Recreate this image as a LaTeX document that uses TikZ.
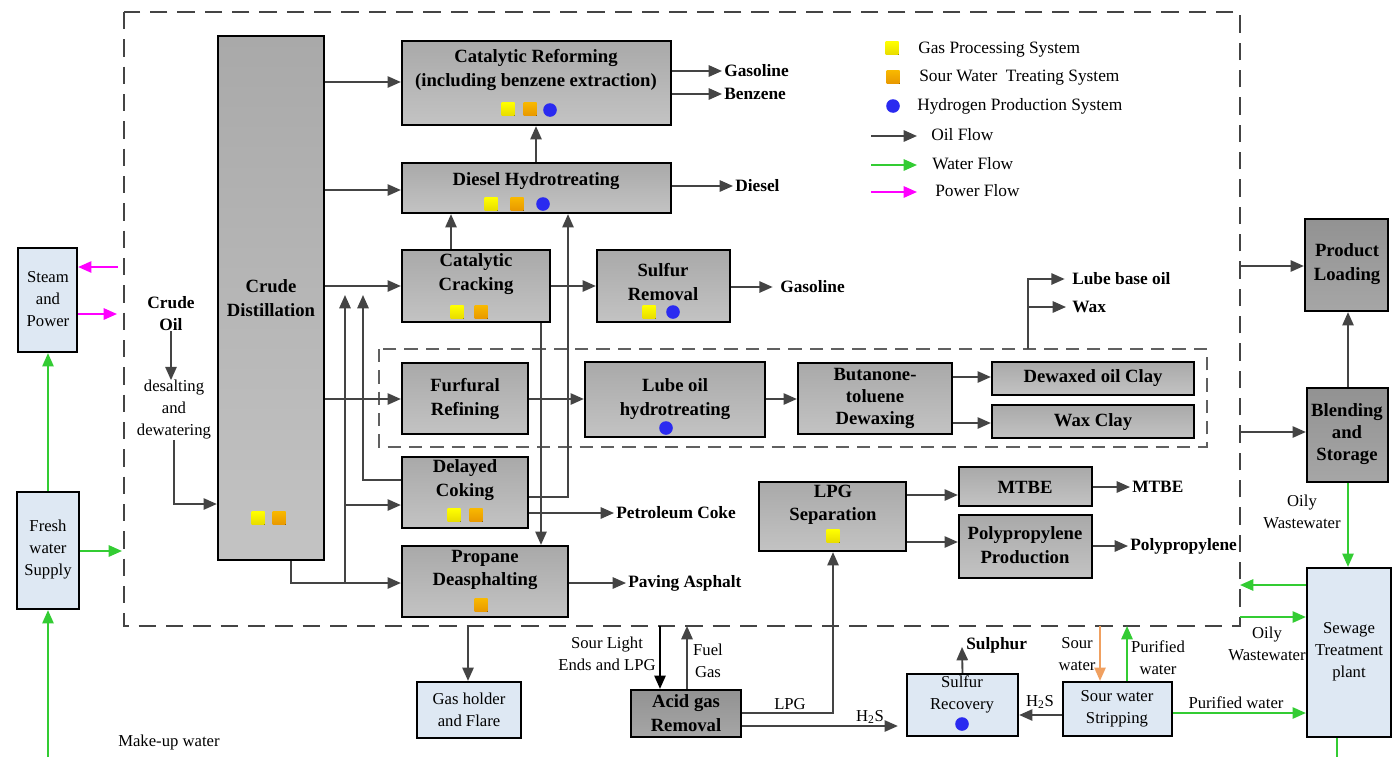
\documentclass[tikz,border=0pt]{standalone}
\usepackage{fontspec}
\setmainfont{Liberation Serif}
\usetikzlibrary{arrows.meta,fit}
\definecolor{ln}{HTML}{444444}
\definecolor{bxA}{HTML}{A9A9A9}
\definecolor{bxB}{HTML}{C3C3C3}
\definecolor{dkA}{HTML}{929292}
\definecolor{dkB}{HTML}{A6A6A6}
\definecolor{lbl}{HTML}{DEE8F3}
\definecolor{wgr}{HTML}{33CC33}
\definecolor{pwr}{HTML}{FF00FF}
\definecolor{swo}{HTML}{F0A060}
\definecolor{yA}{HTML}{FFFF00}
\definecolor{yB}{HTML}{E8DC00}
\definecolor{oA}{HTML}{F8B800}
\definecolor{oB}{HTML}{E89800}
\definecolor{bA}{HTML}{2A2AF0}
\tikzset{
 gbox/.style={draw=black,line width=1.7pt,top color=bxA,bottom color=bxB,inner sep=0pt},
 dbox/.style={draw=black,line width=1.7pt,top color=dkA,bottom color=dkB,inner sep=0pt},
 lbox/.style={draw=black,line width=1.7pt,fill=lbl,inner sep=0pt},
 tipA/.style={-{Triangle[length=10pt,width=8.5pt]}},
 oil/.style={draw=ln,line width=1.4pt,tipA},
 oilline/.style={draw=ln,line width=1.4pt},
 wat/.style={draw=wgr,line width=1.4pt,tipA},
 watline/.style={draw=wgr,line width=1.4pt},
 pow/.style={draw=pwr,line width=1.4pt,tipA},
 sour/.style={draw=swo,line width=1.4pt,tipA},
 btx/.style={font=\fontsize{14}{17.5}\selectfont\bfseries,align=center,inner sep=0pt},
 blab/.style={font=\fontsize{13}{16}\selectfont\bfseries,anchor=west,inner sep=1.5pt},
 rtx/.style={font=\fontsize{12.5}{16.5}\selectfont,align=center,inner sep=0pt},
 legt/.style={font=\fontsize{13}{16}\selectfont,anchor=west,inner sep=0pt},
 outerdash/.style={draw=ln,line width=1.5pt,dash pattern=on 13pt off 7.5pt},
 innerdash/.style={draw=ln!85,line width=1.1pt,dash pattern=on 10pt off 6pt},
}
\newcommand\mkY[2]{\fill[top color=yA,bottom color=yB,shift={(#1,#2)}] (-6.5,-6.5) rectangle (6.5,6.5);}
\newcommand\mkO[2]{\fill[top color=oA,bottom color=oB,shift={(#1,#2)}] (-6.5,-6.5) rectangle (6.5,6.5);}
\newcommand\mkB[2]{\fill[bA,shift={(#1,#2)}] (0,0) circle (6.8);}
\begin{document}
\begin{tikzpicture}[x=0.75pt,y=-0.75pt]
\useasboundingbox (0,0) rectangle (1398,757);
% dashed frames
\draw[outerdash] (124,12) rectangle (1240,626);
\draw[innerdash] (379,349) rectangle (1207,447);
% boxes
\node[gbox,fit={(218,36) (324,560)}] (cd) {};
\node[gbox,fit={(402,41) (671,125)}] (cr) {};
\node[gbox,fit={(402,163) (671,213)}] (dh) {};
\node[gbox,fit={(402,250) (550,322)}] (cc) {};
\node[gbox,fit={(597,250) (730,322)}] (sr) {};
\node[gbox,fit={(402,363) (528,434)}] (ff) {};
\node[gbox,fit={(585,362) (765,437)}] (lo) {};
\node[gbox,fit={(798,363) (952,434)}] (bt) {};
\node[gbox,fit={(992,362) (1194,395)}] (dw) {};
\node[gbox,fit={(992,405) (1194,438)}] (wc) {};
\node[gbox,fit={(402,457) (528,528)}] (dc) {};
\node[gbox,fit={(402,546) (568,617)}] (pd) {};
\node[gbox,fit={(759,482) (906,551)}] (lpg) {};
\node[gbox,fit={(959,467) (1092,506)}] (mtbe) {};
\node[gbox,fit={(959,515) (1092,578)}] (pp) {};
\node[dbox,fit={(1305,219) (1388,311)}] (pl) {};
\node[dbox,fit={(1307,388) (1388,482)}] (bs) {};
\node[lbox,fit={(1307,568) (1391,737)}] (stp) {};
\node[lbox,fit={(18,248) (77,352)}] (sp) {};
\node[lbox,fit={(17,492) (79,609)}] (fw) {};
\node[lbox,fit={(417,682) (521,738)}] (gh) {};
\node[dbox,fit={(631,690) (741,737)}] (agr) {};
\node[lbox,fit={(907,674) (1018,736)}] (sulr) {};
\node[lbox,fit={(1063,682) (1172,736)}] (sws) {};
% box texts
\node[btx] (cdt) at (271,298) {Crude\\Distillation};
\node[btx] (crt) at (536,70) {Catalytic Reforming\\(including benzene extraction)};
\node[btx] (dht) at (536,181) {Diesel Hydrotreating};
\node[btx] (cct) at (476,274) {Catalytic\\Cracking};
\node[btx] (srt) at (663,282) {Sulfur\\Removal};
\node[btx] (fft) at (465,399) {Furfural\\Refining};
\node[btx] (lot) at (675,399) {Lube oil\\hydrotreating};
\node[btx,font=\fontsize{14}{16.5}\selectfont\bfseries] (btt) at (875,398) {Butanone-\\toluene\\Dewaxing};
\node[btx] (dwt) at (1093,378) {Dewaxed oil Clay};
\node[btx] (wct) at (1093,422) {Wax Clay};
\node[btx] (dct) at (465,480) {Delayed\\Coking};
\node[btx] (pdt) at (485,570) {Propane\\Deasphalting};
\node[btx] (lpgt) at (833,505) {LPG\\Separation};
\node[btx] (mtbet) at (1025,487) {MTBE};
\node[btx] (ppt) at (1025,545) {Polypropylene\\Production};
\node[btx] (plt) at (1347,264) {Product\\Loading};
\node[btx,font=\fontsize{14}{16.5}\selectfont\bfseries] (bst) at (1347,434) {Blending\\and\\Storage};
\node[btx] (agrt) at (686,713) {Acid gas\\Removal};
\node[rtx] (stpt) at (1349,652) {Sewage\\Treatment\\plant};
\node[rtx] (spt) at (48,299) {Steam\\and\\Power};
\node[rtx] (fwt) at (48,550) {Fresh\\water\\Supply};
\node[rtx] (ght) at (469,710) {Gas holder\\and Flare};
\node[rtx] (sulrt) at (962,694) {Sulfur\\Recovery};
\node[rtx] (swst) at (1117,709) {Sour water\\Stripping};
% markers
\mkY{508}{109}\mkO{530}{109}\mkB{550}{110}
\mkY{491}{204}\mkO{517}{204}\mkB{543}{204}
\mkY{457}{312}\mkO{481}{312}
\mkY{649}{312}\mkB{673}{312}
\mkY{258}{518}\mkO{279}{518}
\mkY{454}{515}\mkO{476}{515}
\mkO{481}{605}
\mkY{833}{536}
\mkB{666}{428}
\mkB{962}{724}
% legend
\mkY{892}{48}\mkO{893}{77}\mkB{893}{106}
\node[legt] (lg1) at (918,50) {Gas Processing System};
\node[legt] (lg2) at (919,78) {Sour Water\ \ Treating System};
\node[legt] (lg3) at (917,106) {Hydrogen Production System};
\node[legt] (lg4) at (931,135) {Oil Flow};
\node[legt] (lg5) at (932,164) {Water Flow};
\node[legt] (lg6) at (935,191) {Power Flow};
\coordinate (la1) at (871,136); \coordinate (la2) at (917,136);
\coordinate (lb1) at (871,165); \coordinate (lb2) at (917,165);
\coordinate (lc1) at (871,192); \coordinate (lc2) at (917,192);
\draw[oil] (la1) -- (la2);
\draw[wat] (lb1) -- (lb2);
\draw[pow] (lc1) -- (lc2);
% product labels
\node[blab] (g1) at (722,71) {Gasoline};
\node[blab] (bz) at (722,94) {Benzene};
\node[blab] (ds) at (733,186) {Diesel};
\node[blab] (g2) at (778,287) {Gasoline};
\node[blab] (lbo) at (1070,279) {Lube base oil};
\node[blab] (wx) at (1070,307) {Wax};
\node[blab] (pc) at (614,513) {Petroleum Coke};
\node[blab] (pa) at (626,583) {Paving Asphalt};
\node[blab] (mt) at (1130,487) {MTBE};
\node[blab] (ppl) at (1128,546) {Polypropylene};
\node[blab] (sul) at (964,645) {Sulphur};
% other labels
\node[font=\fontsize{13}{16.5}\selectfont\bfseries,align=center,inner sep=0pt] (coil) at (171,314) {Crude\\Oil};
\node[rtx] (desw) at (174,410) {desalting\\and\\dewatering};
\node[rtx] (slel) at (607,654) {Sour Light\\Ends and LPG};
\node[rtx] (fgl) at (708,661) {Fuel\\Gas};
\node[rtx] (lpgl) at (790,704) {LPG};
\node[rtx] (h2sa) at (870,717) {H\textsubscript{2}S};
\node[rtx] (h2sb) at (1040,702) {H\textsubscript{2}S};
\node[rtx] (swl) at (1077,654) {Sour\\water};
\node[rtx] (pwl1) at (1158,658) {Purified\\water};
\node[rtx] (pwl2) at (1236,703) {Purified water};
\node[rtx] (ow1) at (1267,644) {Oily\\Wastewater};
\node[rtx] (ow2) at (1302,512) {Oily\\Wastewater};
\node[rtx,anchor=west] (muw) at (118,742) {Make-up water};
% oil connectors from crude distillation
\draw[oil] (cd.east |- 0,82) -- (cr.west |- 0,82);
\draw[oil] (cd.east |- 0,190) -- (dh.west |- 0,190);
\draw[oil] (cd.east |- 0,286) -- (cc.west |- 0,286);
\draw[oil] (cd.east |- 0,399) -- (ff.west |- 0,399);
\coordinate (j1) at (345,295);
\coordinate (j2) at (363,295);
\draw[oil] (cd.south -| 291,0) -- (291,583) -- (pd.west |- 0,583);
\draw[oil] (345,583) -- (j1);
\draw[oil] (345,505) -- (dc.west |- 0,505);
\draw[oil] (dc.west |- 0,480) -- (363,480) -- (j2);
\draw[oil] (coil.south) -- (coil.south |- desw.north);
\draw[oil] (desw.south) -- (desw.south |- 0,504) -- (cd.west |- 0,504);
% between units
\draw[oil] (cc.north -| 451,0) -- (dh.south -| 451,0);
\draw[oil] (dh.north -| 536,0) -- (cr.south -| 536,0);
\draw[oil] (dc.east |- 0,497) -- (568,497) -- (dh.south -| 568,0);
\draw[oil] (cc.south -| 541,0) -- (pd.north -| 541,0);
\draw[oil] (cc.east |- 0,286) -- (sr.west |- 0,286);
\draw[oil] (sr.east |- 0,287) -- ([xshift=-4pt]g2.west);
\draw[oil] (cr.east |- g1.west) -- (g1.west);
\draw[oil] (cr.east |- bz.west) -- (bz.west);
\draw[oil] (dh.east |- ds.west) -- (ds.west);
\draw[oil] (ff.east |- 0,399) -- (lo.west |- 0,399);
\draw[oil] (lo.east |- 0,399) -- (bt.west |- 0,399);
\draw[oil] (bt.east |- 0,377) -- (dw.west |- 0,377);
\draw[oil] (bt.east |- 0,423) -- (wc.west |- 0,423);
\coordinate (ib) at (1028,349);
\draw[oil] (ib) -- (ib |- lbo.west) -- ([xshift=-4pt]lbo.west);
\draw[oil] (ib |- wx.west) -- ([xshift=-3pt]wx.west);
\draw[oil] (dc.east |- pc.west) -- (pc.west);
\draw[oil] (pd.east |- pa.west) -- (pa.west);
\draw[oil] (lpg.east |- 0,495) -- (mtbe.west |- 0,495);
\draw[oil] (lpg.east |- 0,542) -- (pp.west |- 0,542);
\draw[oil] (mtbe.east |- mt.west) -- (mt.west);
\draw[oil] (pp.east |- ppl.west) -- (ppl.west);
% right side
\coordinate (r1) at (1240,266);
\coordinate (r2) at (1240,432);
\draw[oil] (r1) -- (pl.west |- r1);
\draw[oil] (r2) -- (bs.west |- r2);
\draw[oil] (bs.north -| 1348,0) -- (pl.south -| 1348,0);
% bottom
\coordinate (b1) at (468,626);
\coordinate (b2) at (660,626);
\coordinate (b3) at (687,626);
\coordinate (b4) at (1100,626);
\coordinate (b5) at (1127,626);
\coordinate (su) at (962,647);
\draw[oil] (b1) -- (gh.north -| b1);
\draw[oil,draw=black] (b2) -- (agr.north -| b2);
\draw[oil] (agr.north -| b3) -- (b3);
\draw[oil] (agr.east |- 0,713) -- (833,713) -- (lpg.south -| 833,0);
\draw[oil] (agr.east |- 0,726) -- ([xshift=-6pt]sulr.west |- 0,726);
\draw[oil] (sulr.north) -- (su);
\draw[oil] (sws.west |- 0,715) -- (sulr.east |- 0,715);
\draw[sour] (b4) -- (sws.north -| b4);
\draw[wat] (sws.north -| b5) -- (b5);
\draw[wat] (sws.east |- 0,713) -- (stp.west |- 0,713);
\draw[wat] (bs.south -| 1348,0) -- (stp.north -| 1348,0);
\coordinate (r3) at (1240,585);
\coordinate (r4) at (1240,617);
\draw[wat] (stp.west |- r3) -- (r3);
\draw[wat] (r4) -- (stp.west |- r4);
\coordinate (b6) at (1337,757);
\draw[watline] (stp.south -| b6) -- (b6);
% left side
\coordinate (l1) at (48,757);
\coordinate (l2) at (122,551);
\coordinate (l3) at (118,267);
\coordinate (l4) at (117,314);
\draw[wat] (l1) -- (fw.south -| l1);
\draw[wat] (fw.north -| l1) -- (sp.south -| l1);
\draw[wat] (fw.east |- l2) -- (l2);
\draw[pow] (l3) -- (sp.east |- l3);
\draw[pow] (sp.east |- l4) -- (l4);
\end{tikzpicture}
\end{document}
